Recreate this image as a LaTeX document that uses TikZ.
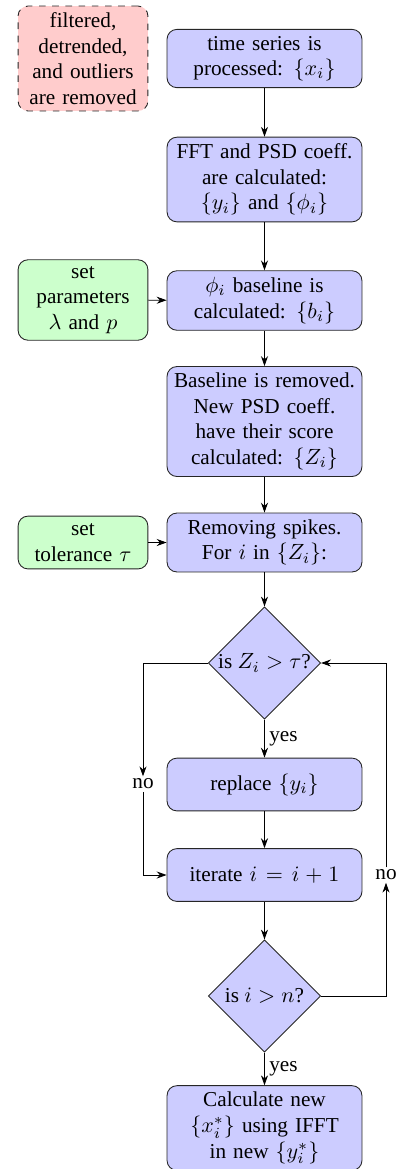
\documentclass[tikz,border=0pt]{standalone}
\usepackage[no-math]{fontspec}
\setmainfont{Liberation Serif}
\usetikzlibrary{shapes.geometric,arrows.meta}
\definecolor{boxblue}{RGB}{204,204,255}
\definecolor{boxgreen}{RGB}{204,255,204}
\definecolor{boxred}{RGB}{255,204,204}
\tikzset{
  procbox/.style={draw=black!85, fill=boxblue, rounded corners=4.5pt, align=center,
    text width=85pt, inner xsep=1.8pt, inner ysep=3pt, minimum height=24pt, line width=0.4pt},
  parbox/.style={draw=black!85, fill=boxgreen, rounded corners=4.5pt, align=center,
    text width=55pt, inner xsep=2pt, inner ysep=3pt, minimum height=24pt, line width=0.4pt},
  prebox/.style={draw=black!85, fill=boxred, rounded corners=4.5pt, align=center, dashed,
    text width=55pt, inner xsep=2pt, inner ysep=3pt, line width=0.4pt},
  decbox/.style={draw=black!85, fill=boxblue, diamond, aspect=1, inner sep=0pt,
    minimum width=51pt, minimum height=51pt, line width=0.4pt},
  conn/.style={-{Stealth[length=4.5pt,width=3.2pt]}, line width=0.4pt},
  lab/.style={inner sep=1pt}
}
\begin{document}
\begin{tikzpicture}[x=0.454545pt,y=-0.454545pt, font=\fontsize{9.65}{11.6}\selectfont]
\useasboundingbox (0,0) rectangle (396,1169);
\node[prebox] (pre) at (83,58.5) {filtered,\\ detrended,\\ and outliers\\ are removed};
\node[procbox] (b1) at (264.5,58.5) {time series is\\ processed: $\{x_i\}$};
\node[procbox] (b2) at (264.5,179.5) {FFT and PSD coeff.\\ are calculated:\\ $\{y_i\}$ and $\{\phi_i\}$};
\node[procbox] (b3) at (264.5,300.5) {$\phi_i$ baseline is\\ calculated: $\{b_i\}$};
\node[parbox] (g1) at (83,300) {set\\ parameters\\ $\lambda$ and $p$};
\node[procbox] (b4) at (264.5,421.5) {Baseline is removed.\\ New PSD coeff.\\ have their score\\ calculated: $\{Z_i\}$};
\node[procbox] (b5) at (264.5,542.5) {Removing spikes.\\ For $i$ in $\{Z_i\}$:};
\node[parbox] (g2) at (83,542.5) {set\\ tolerance $\tau$};
\node[decbox] (d1) at (264.5,663) {is $Z_i>\tau$?};
\node[procbox] (rep) at (264.5,784.5) {replace $\{y_i\}$};
\node[lab] (no1) at (143,784) {no};
\node[procbox] (it) at (264.5,875) {iterate $i=i+1$};
\node[lab] (no2) at (386,875) {no};
\node[decbox] (d2) at (264.5,996) {is $i>n$?};
\node[procbox] (fin) at (264.5,1128) {Calculate new\\ $\{x_i^*\}$ using IFFT\\ in new $\{y_i^*\}$};

\draw[conn] (b1) -- (b2);
\draw[conn] (b2) -- (b3);
\draw[conn] (b3) -- (b4);
\draw[conn] (b4) -- (b5);
\draw[conn] (b5) -- (d1);
\draw[conn] (g1) -- (b3);
\draw[conn] (g2) -- (b5);
\draw[conn] (d1) -- node[right, lab, xshift=1pt] {yes} (rep);
\draw[conn] (d1.west) -| (no1.north);
\draw[conn] (no1.south) |- (it.west);
\draw[conn] (rep) -- (it);
\draw[conn] (it) -- (d2);
\draw[conn] (d2) -- node[right, lab, xshift=1pt] {yes} (fin);
\draw[conn] (d2.east) -| (no2.south);
\draw[conn] (no2.north) |- (d1.east);
\end{tikzpicture}
\end{document}
